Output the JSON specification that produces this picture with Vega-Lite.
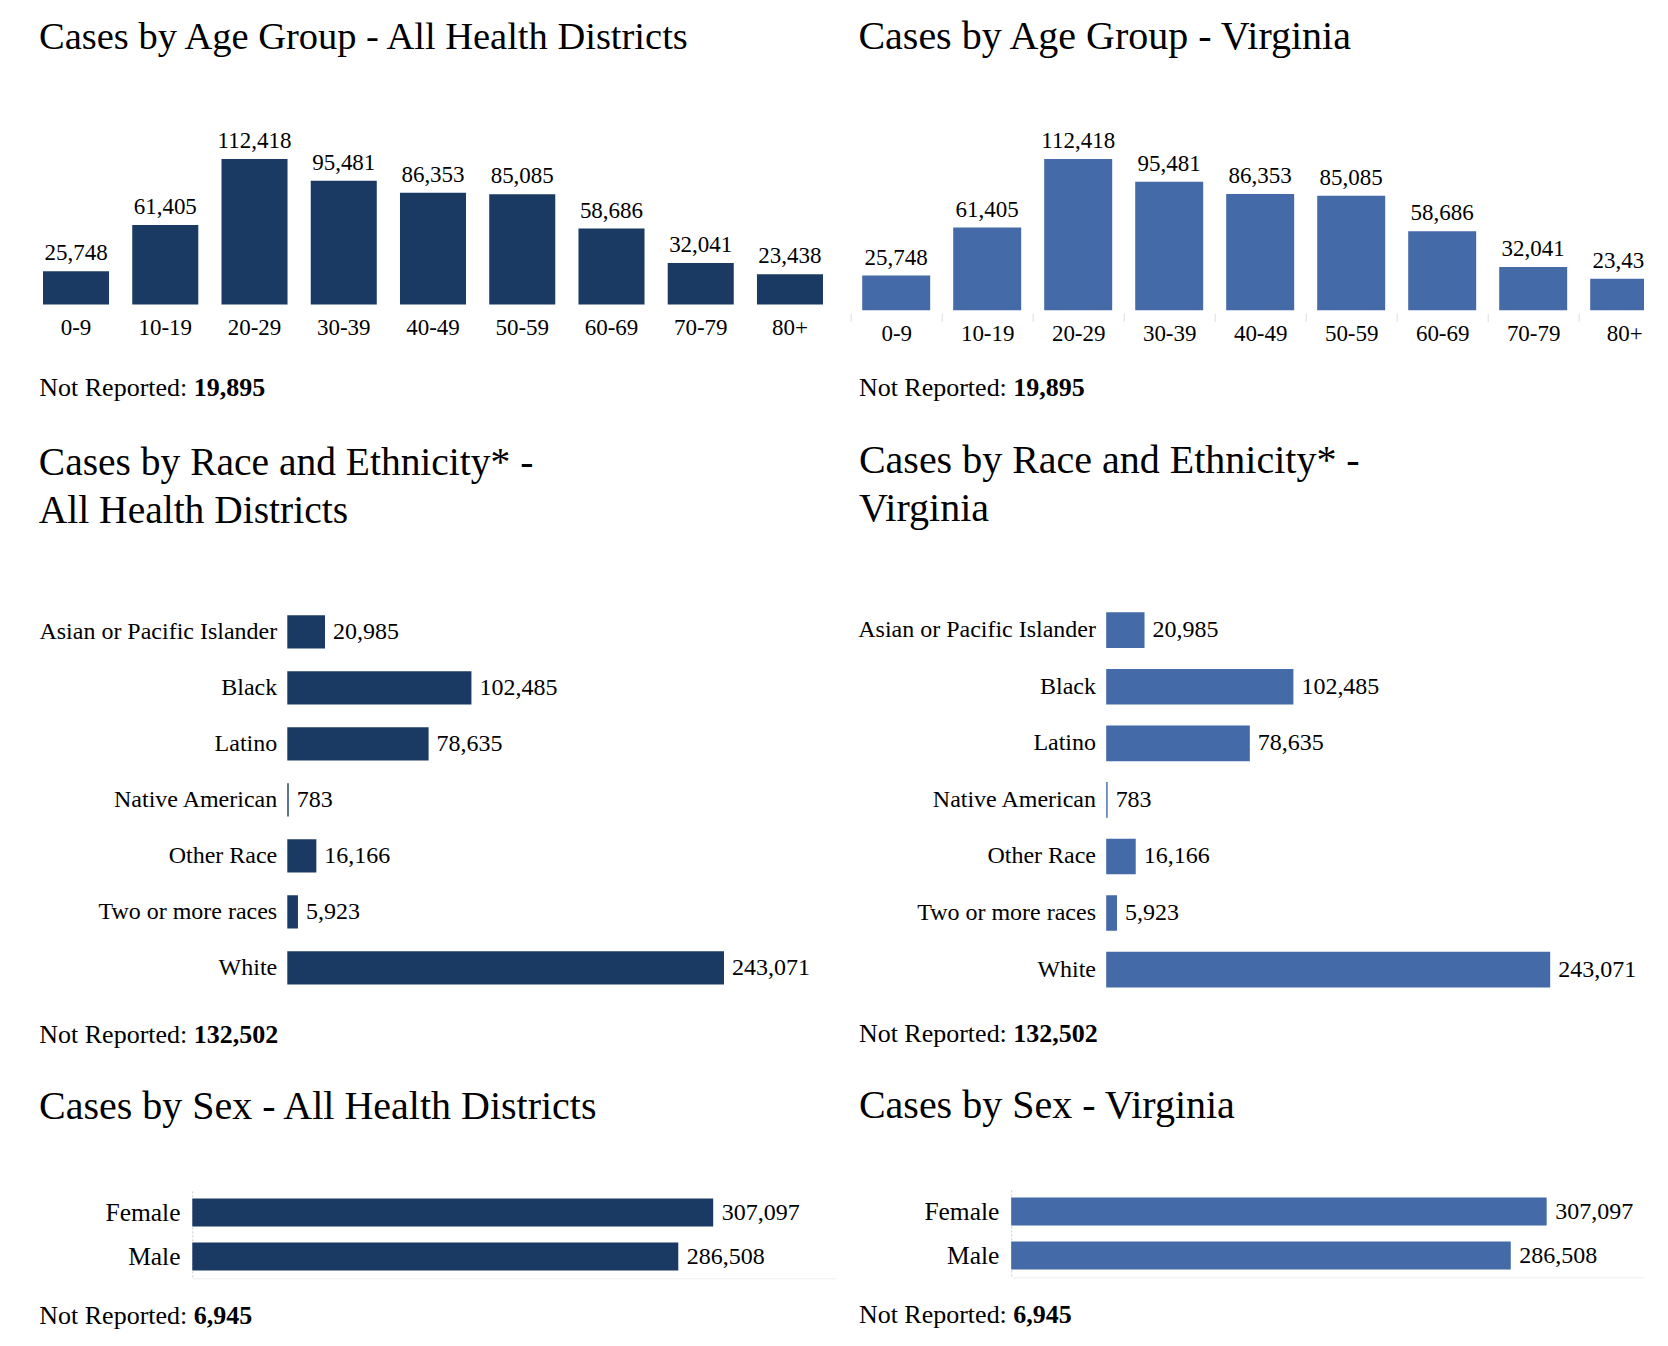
{
  "$schema": "https://vega.github.io/schema/vega-lite/v6.json",
  "background": "white",
  "padding": {"left": 38, "top": 15.9, "right": -26, "bottom": 0},
  "config": {
    "view": {"stroke": null},
    "font": "Liberation Serif",
    "title": {"font": "Liberation Serif", "fontSize": 38, "fontWeight": "normal", "color": "#000", "anchor": "start", "baseline": "alphabetic", "lineHeight": 47.6},
    "axis": {"labelFont": "Liberation Serif", "labelColor": "#000", "title": null, "grid": false, "labelLimit": 500},
    "text": {"font": "Liberation Serif", "color": "#000"}
  },
  "datasets": {
    "age": [
      {"group": "0-9", "cases": 25748},
      {"group": "10-19", "cases": 61405},
      {"group": "20-29", "cases": 112418},
      {"group": "30-39", "cases": 95481},
      {"group": "40-49", "cases": 86353},
      {"group": "50-59", "cases": 85085},
      {"group": "60-69", "cases": 58686},
      {"group": "70-79", "cases": 32041},
      {"group": "80+", "cases": 23438}
    ],
    "race": [
      {"race": "Asian or Pacific Islander", "cases": 20985},
      {"race": "Black", "cases": 102485},
      {"race": "Latino", "cases": 78635},
      {"race": "Native American", "cases": 783},
      {"race": "Other Race", "cases": 16166},
      {"race": "Two or more races", "cases": 5923},
      {"race": "White", "cases": 243071}
    ],
    "sex": [
      {"sex": "Female", "cases": 307097},
      {"sex": "Male", "cases": 286508}
    ],
    "noteAge": [{"label": "Not Reported:", "value": 19895}],
    "noteRace": [{"label": "Not Reported:", "value": 132502}],
    "noteSex": [{"label": "Not Reported:", "value": 6945}]
  },
  "hconcat": [
    {
      "vconcat": [
        {
          "title": {"text": "Cases by Age Group - All Health Districts", "offset": 72.4, "fontSize": 38.5},
          "width": 788, "height": 145.7,
          "data": {"name": "age"},
          "encoding": {
            "x": {"field": "group", "type": "ordinal", "sort": null,
                  "scale": {"paddingInner": 0.26, "paddingOuter": 0.0448},
                  "axis": {"labelAngle": 0, "ticks": false, "domain": false, "labelFontSize": 23, "labelPadding": 30, "labelBaseline": "alphabetic"}},
            "y": {"field": "cases", "type": "quantitative", "scale": {"domain": [0, 112418], "nice": false}, "axis": null}
          },
          "layer": [
            {"mark": {"type": "bar", "color": "#1b3a63"}},
            {"mark": {"type": "text", "baseline": "alphabetic", "dy": -11, "fontSize": 23},
             "encoding": {"text": {"field": "cases", "type": "quantitative", "format": ","}}}
          ]
        },
        {
          "width": 400, "height": 102.3,
          "data": {"name": "noteAge"},
          "layer": [
            {"mark": {"type": "text", "align": "left", "baseline": "alphabetic", "fontSize": 26},
             "encoding": {"x": {"value": 0.3}, "y": {"value": 56.2}, "text": {"field": "label"}}},
            {"mark": {"type": "text", "align": "left", "baseline": "alphabetic", "fontSize": 26, "fontWeight": "bold", "dx": 154.5},
             "encoding": {"x": {"value": 0.3}, "y": {"value": 56.2}, "text": {"field": "value", "type": "quantitative", "format": ","}}}
          ]
        },
        {
          "title": {"text": ["Cases by Race and Ethnicity* -", "All Health Districts"], "offset": 72.7, "fontSize": 39.5},
          "width": 685, "height": 392,
          "data": {"name": "race"},
          "encoding": {
            "y": {"field": "race", "type": "nominal", "sort": null,
                  "scale": {"paddingInner": 0.405, "paddingOuter": 0.2025},
                  "axis": {"ticks": false, "domain": false, "labelFontSize": 24, "labelPadding": 10.6, "offset": -248.3, "minExtent": 0}},
            "x": {"field": "cases", "type": "quantitative", "scale": {"domain": [0, 243071], "nice": false, "range": [248.3, 685]}, "axis": null}
          },
          "layer": [
            {"mark": {"type": "bar", "color": "#1b3a63"}},
            {"mark": {"type": "text", "align": "left", "baseline": "middle", "dx": 8, "fontSize": 24},
             "encoding": {"text": {"field": "cases", "type": "quantitative", "format": ","}}}
          ]
        },
        {
          "width": 400, "height": 90.6,
          "data": {"name": "noteRace"},
          "layer": [
            {"mark": {"type": "text", "align": "left", "baseline": "alphabetic", "fontSize": 26},
             "encoding": {"x": {"value": 0.3}, "y": {"value": 46.8}, "text": {"field": "label"}}},
            {"mark": {"type": "text", "align": "left", "baseline": "alphabetic", "fontSize": 26, "fontWeight": "bold", "dx": 154.5},
             "encoding": {"x": {"value": 0.3}, "y": {"value": 46.8}, "text": {"field": "value", "type": "quantitative", "format": ","}}}
          ]
        },
        {
          "title": {"text": "Cases by Sex - All Health Districts", "offset": 63.6, "fontSize": 40},
          "width": 796.3, "height": 87.4,
          "data": {"name": "sex"},
          "encoding": {
            "y": {"field": "sex", "type": "nominal", "sort": null,
                  "scale": {"paddingInner": 0.364, "paddingOuter": 0.175},
                  "axis": {"ticks": false, "domain": true, "domainColor": "#cccccc", "domainDash": [2, 2], "domainWidth": 1, "labelFontSize": 25.5, "labelPadding": 12.3, "offset": -153.3, "minExtent": 0}},
            "x": {"field": "cases", "type": "quantitative", "scale": {"domain": [0, 379080], "nice": false, "range": [153.3, 796.3]},
                  "axis": {"labels": false, "ticks": false, "domain": true, "domainColor": "#eeeeee", "domainWidth": 1}}
          },
          "layer": [
            {"mark": {"type": "bar", "color": "#1b3a63"}},
            {"mark": {"type": "text", "align": "left", "baseline": "middle", "dx": 8.5, "fontSize": 24},
             "encoding": {"text": {"field": "cases", "type": "quantitative", "format": ","}}}
          ]
        },
        {
          "width": 400, "height": 60,
          "data": {"name": "noteSex"},
          "layer": [
            {"mark": {"type": "text", "align": "left", "baseline": "alphabetic", "fontSize": 26},
             "encoding": {"x": {"value": 0.3}, "y": {"value": 45.1}, "text": {"field": "label"}}},
            {"mark": {"type": "text", "align": "left", "baseline": "alphabetic", "fontSize": 26, "fontWeight": "bold", "dx": 154.5},
             "encoding": {"x": {"value": 0.3}, "y": {"value": 45.1}, "text": {"field": "value", "type": "quantitative", "format": ","}}}
          ]
        }
      ],
      "spacing": 0, "bounds": "full"
    },
    {
      "vconcat": [
        {
          "title": {"text": "Cases by Age Group - Virginia", "offset": 71.2, "dx": 8.2, "dy": -2, "fontSize": 40},
          "width": 819, "height": 151.3,
          "data": {"name": "age"},
          "encoding": {
            "x": {"field": "group", "type": "ordinal", "sort": null,
                  "scale": {"paddingInner": 0.253, "paddingOuter": 0.1265},
                  "axis": {"labelAngle": 0, "ticks": true, "bandPosition": 0, "tickOffset": -11.5, "labelOffset": 11.5, "tickSize": 8.3, "tickColor": "#dddddd", "tickWidth": 1, "offset": 3, "domain": false, "labelFontSize": 23, "labelPadding": 19.1, "labelBaseline": "alphabetic"}},
            "y": {"field": "cases", "type": "quantitative", "scale": {"domain": [0, 112418], "nice": false}, "axis": null}
          },
          "layer": [
            {"mark": {"type": "bar", "color": "#446aa8"}},
            {"mark": {"type": "text", "baseline": "alphabetic", "dy": -11, "fontSize": 23},
             "encoding": {"text": {"field": "cases", "type": "quantitative", "format": ","}}}
          ]
        },
        {
          "width": 400, "height": 95.0,
          "data": {"name": "noteAge"},
          "layer": [
            {"mark": {"type": "text", "align": "left", "baseline": "alphabetic", "fontSize": 26},
             "encoding": {"x": {"value": 8.2}, "y": {"value": 49.7}, "text": {"field": "label"}}},
            {"mark": {"type": "text", "align": "left", "baseline": "alphabetic", "fontSize": 26, "fontWeight": "bold", "dx": 154.3},
             "encoding": {"x": {"value": 8.2}, "y": {"value": 49.7}, "text": {"field": "value", "type": "quantitative", "format": ","}}}
          ]
        },
        {
          "title": {"text": ["Cases by Race and Ethnicity* -", "Virginia"], "offset": 73.2, "dx": 8.2, "fontSize": 40},
          "width": 699.5, "height": 396.0,
          "data": {"name": "race"},
          "encoding": {
            "y": {"field": "race", "type": "nominal", "sort": null,
                  "scale": {"paddingInner": 0.37, "paddingOuter": 0.185},
                  "axis": {"ticks": false, "domain": false, "labelFontSize": 24, "labelPadding": 10.7, "offset": -255.5, "minExtent": 0}},
            "x": {"field": "cases", "type": "quantitative", "scale": {"domain": [0, 243071], "nice": false, "range": [255.5, 699.5]}, "axis": null}
          },
          "layer": [
            {"mark": {"type": "bar", "color": "#446aa8"}},
            {"mark": {"type": "text", "align": "left", "baseline": "middle", "dx": 8, "fontSize": 24},
             "encoding": {"text": {"field": "cases", "type": "quantitative", "format": ","}}}
          ]
        },
        {
          "width": 400, "height": 87.4,
          "data": {"name": "noteRace"},
          "layer": [
            {"mark": {"type": "text", "align": "left", "baseline": "alphabetic", "fontSize": 26},
             "encoding": {"x": {"value": 8.2}, "y": {"value": 44.0}, "text": {"field": "label"}}},
            {"mark": {"type": "text", "align": "left", "baseline": "alphabetic", "fontSize": 26, "fontWeight": "bold", "dx": 154.3},
             "encoding": {"x": {"value": 8.2}, "y": {"value": 44.0}, "text": {"field": "value", "type": "quantitative", "format": ","}}}
          ]
        },
        {
          "title": {"text": "Cases by Sex - Virginia", "offset": 63.6, "dx": 8.2, "fontSize": 40},
          "width": 794, "height": 87.4,
          "data": {"name": "sex"},
          "encoding": {
            "y": {"field": "sex", "type": "nominal", "sort": null,
                  "scale": {"paddingInner": 0.364, "paddingOuter": 0.175},
                  "axis": {"ticks": false, "domain": true, "domainColor": "#cccccc", "domainDash": [2, 2], "domainWidth": 1, "labelFontSize": 25.5, "labelPadding": 12.3, "offset": -160.5, "minExtent": 0}},
            "x": {"field": "cases", "type": "quantitative", "scale": {"domain": [0, 363309], "nice": false, "range": [160.5, 794]},
                  "axis": {"labels": false, "ticks": false, "domain": true, "domainColor": "#eeeeee", "domainWidth": 1}}
          },
          "layer": [
            {"mark": {"type": "bar", "color": "#446aa8"}},
            {"mark": {"type": "text", "align": "left", "baseline": "middle", "dx": 8.5, "fontSize": 24},
             "encoding": {"text": {"field": "cases", "type": "quantitative", "format": ","}}}
          ]
        },
        {
          "width": 400, "height": 60,
          "data": {"name": "noteSex"},
          "layer": [
            {"mark": {"type": "text", "align": "left", "baseline": "alphabetic", "fontSize": 26},
             "encoding": {"x": {"value": 8.2}, "y": {"value": 45.4}, "text": {"field": "label"}}},
            {"mark": {"type": "text", "align": "left", "baseline": "alphabetic", "fontSize": 26, "fontWeight": "bold", "dx": 154.3},
             "encoding": {"x": {"value": 8.2}, "y": {"value": 45.4}, "text": {"field": "value", "type": "quantitative", "format": ","}}}
          ]
        }
      ],
      "spacing": 0, "bounds": "full"
    }
  ],
  "spacing": 13.7, "bounds": "full"
}
